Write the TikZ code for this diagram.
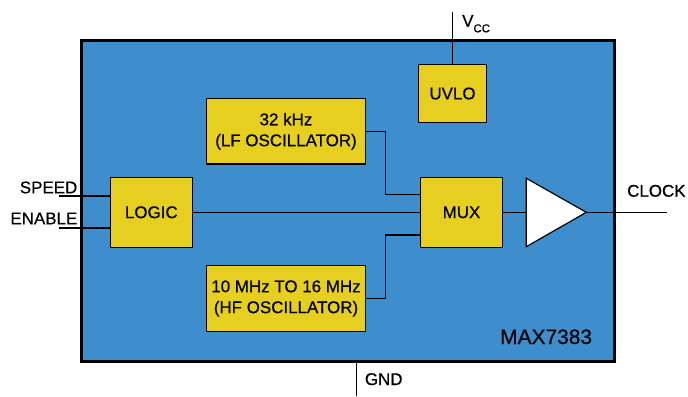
\documentclass[tikz,border=0pt]{standalone}
\usepackage{fontspec}
\setmainfont{Liberation Sans}[FakeBold=0.6]
\definecolor{chipblue}{RGB}{62,142,205}
\definecolor{blockyellow}{RGB}{231,207,33}
\begin{document}
\begin{tikzpicture}[x=1bp,y=-1bp,
  chipbox/.style={draw=black, line width=3bp, fill=chipblue, inner sep=0pt},
  block/.style={draw=black, line width=1.2bp, fill=blockyellow, inner sep=0pt, align=center,
    font=\fontsize{17}{21}\selectfont},
  wire/.style={line width=1.3bp},
  lbl/.style={font=\fontsize{17}{21}\selectfont, inner sep=0pt},
]
\useasboundingbox (0,0) rectangle (688,396);
\node[chipbox, minimum width=532bp, minimum height=321bp] (chip) at (348,200.5) {};
\node[block, minimum width=158.6bp, minimum height=65.3bp] (lf) at (286,131.35) {32 kHz\\(LF OSCILLATOR)};
\node[block, minimum width=67.6bp, minimum height=57.6bp] (uvlo) at (452.5,93.5) {UVLO};
\node[block, minimum width=82bp, minimum height=70bp] (logic) at (151.3,212.3) {LOGIC};
\node[block, minimum width=158.6bp, minimum height=65.6bp] (hf) at (286,298.5) {10 MHz TO 16 MHz\\(HF OSCILLATOR)};
\node[block, minimum width=81.6bp, minimum height=70bp] (mux) at (461.5,212.3) {MUX};
% buffer
\coordinate (bufin) at (526.3,212.3);
\coordinate (bufout) at (586.3,212.3);
\draw[line width=1.2bp, fill=white] (526.3,178.3) -- (bufout) -- (526.3,246.7) -- cycle;
% free ends
\coordinate (vcc) at (452.5,11.7);
\coordinate (speedin) at (59,196);
\coordinate (enablein) at (59,228);
\coordinate (clockout) at (667.3,212.3);
\coordinate (gnd) at (356.3,396);
% wires
\draw[wire] (vcc) -- (uvlo.north);
\draw[wire] (speedin) -- (speedin -| logic.west);
\draw[wire] (enablein) -- (enablein -| logic.west);
\draw[wire] (logic.east) -- (mux.west);
\draw[wire] (lf.east) -- ++(19.7,0) |- ([yshift=18bp]mux.west);
\draw[wire] (hf.east) -- ++(19.7,0) |- ([yshift=-22.7bp]mux.west);
\draw[wire] (mux.east) -- (bufin);
\draw[wire] (bufout) -- (clockout);
\draw[wire] (chip.south -| gnd) -- (gnd);
% labels
\node[lbl, anchor=base west] (vcclbl) at (462,26.7) {V\raisebox{-5.6bp}{\fontsize{11.5}{12}\selectfont CC}};
\node[lbl, anchor=base east] (speedlbl) at (77.5,193.3) {SPEED};
\node[lbl, anchor=base east] (enablelbl) at (77.5,224.3) {ENABLE};
\node[lbl, anchor=base west] (clocklbl) at (627,196.7) {CLOCK};
\node[lbl, anchor=base west] (gndlbl) at (364.7,385) {GND};
\node[lbl, anchor=base west, font=\fontsize{21}{24}\selectfont] (partlbl) at (500,344) {MAX7383};
\end{tikzpicture}
\end{document}
